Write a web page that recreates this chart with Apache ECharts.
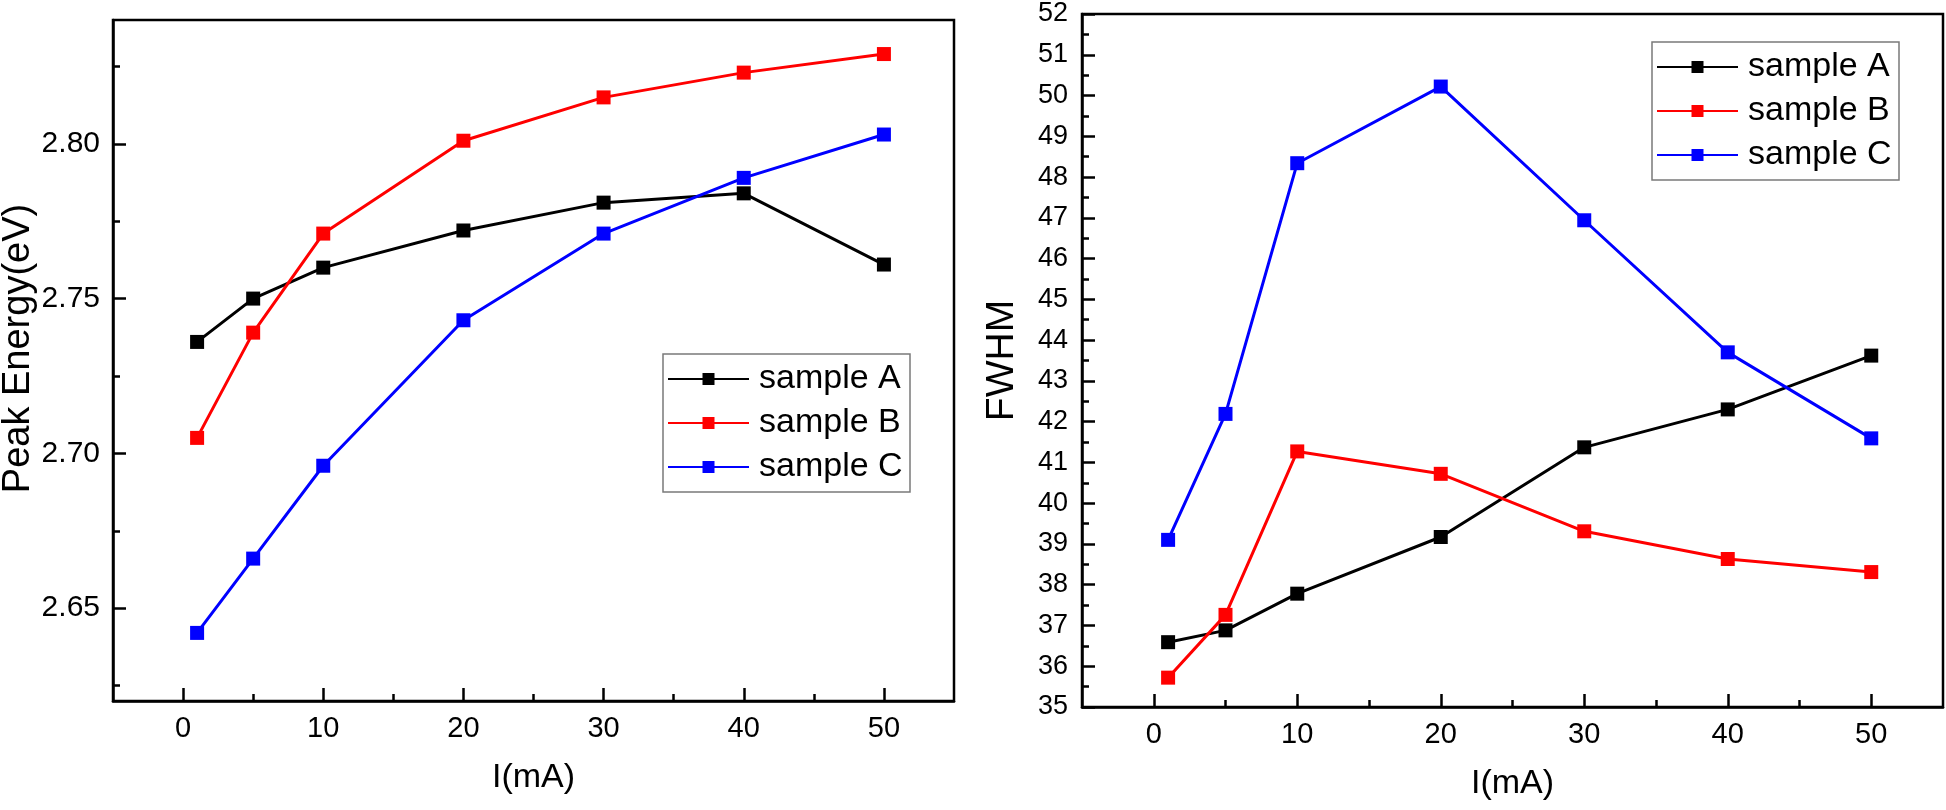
<!DOCTYPE html>
<html>
<head>
<meta charset="utf-8">
<script src="https://cdn.jsdelivr.net/npm/echarts@6/dist/echarts.min.js"></script>
<style>
html,body{margin:0;padding:0;background:#fff;}
#chart{width:1946px;height:810px;}
</style>
</head>
<body>
<div id="chart"></div>
<script>
// ---- data ----
var currents = [1, 5, 10, 20, 30, 40, 50];
var seriesNames = ['sample A', 'sample B', 'sample C'];
var peakA = [2.736, 2.750, 2.760, 2.772, 2.781, 2.784, 2.761];
var peakB = [2.705, 2.739, 2.771, 2.801, 2.815, 2.823, 2.829];
var peakC = [2.642, 2.666, 2.696, 2.743, 2.771, 2.789, 2.803];
var fwhmA = [36.59, 36.88, 37.78, 39.17, 41.37, 42.30, 43.62];
var fwhmB = [35.72, 37.26, 41.27, 40.72, 39.31, 38.63, 38.31];
var fwhmC = [39.10, 42.19, 48.34, 50.22, 46.94, 43.70, 41.59];
// ---- tick labels ----
var xMajorTicks = [0, 10, 20, 30, 40, 50];
var xMinorTicks = [5, 15, 25, 35, 45];
var peakMajorTicks = [2.65, 2.70, 2.75, 2.80];
var peakMinorTicks = [2.625, 2.675, 2.725, 2.775, 2.825];
var fwhmMajorTicks = [35,36,37,38,39,40,41,42,43,44,45,46,47,48,49,50,51,52];
var fwhmMinorTicks = [35.5,36.5,37.5,38.5,39.5,40.5,41.5,42.5,43.5,44.5,45.5,46.5,47.5,48.5,49.5,50.5,51.5];

var FONT = "'Liberation Sans', Arial, sans-serif";
var colors = ['#000000', '#ff0000', '#0000ff'];

function zip(xs, ys) { return xs.map(function (x, i) { return [x, ys[i]]; }); }

function majorAxis(grid, min, max, ticks, extra) {
  var a = {
    type: 'value', gridIndex: grid, min: min, max: max,
    axisLine: { show: true, onZero: false, lineStyle: { color: '#000', width: 2.5 } },
    axisTick: { show: true, inside: true, length: 13, customValues: ticks, lineStyle: { color: '#000', width: 2.5 } },
    splitLine: { show: false }
  };
  for (var k in extra) a[k] = extra[k];
  return a;
}
function minorAxis(grid, min, max, ticks, pos) {
  return {
    type: 'value', gridIndex: grid, min: min, max: max, position: pos,
    axisLine: { show: false, onZero: false },
    axisTick: { show: true, inside: true, length: 7, customValues: ticks, lineStyle: { color: '#000', width: 2.5 } },
    axisLabel: { show: false },
    splitLine: { show: false }
  };
}
function xMajor(grid) {
  return majorAxis(grid, -5, 55, xMajorTicks, {
    position: 'bottom',
    axisLabel: { show: true, customValues: xMajorTicks, color: '#000', fontFamily: FONT, fontSize: 29, margin: 13 },
    name: 'I(mA)', nameLocation: 'middle', nameGap: 60,
    nameTextStyle: { fontSize: 34, color: '#000', fontFamily: FONT }
  });
}

var xAxes = [
  xMajor(0),
  minorAxis(0, -5, 55, xMinorTicks, 'bottom'),
  xMajor(1),
  minorAxis(1, -5, 55, xMinorTicks, 'bottom')
];
var yAxes = [
  majorAxis(0, 2.62, 2.84, peakMajorTicks, {
    position: 'left',
    axisLabel: { show: true, customValues: peakMajorTicks, color: '#000', fontFamily: FONT, fontSize: 30, margin: 13,
      formatter: function (v) { return Number(v).toFixed(2); } },
    name: 'Peak Energy(eV)', nameLocation: 'middle', nameGap: 74,
    nameTextStyle: { fontSize: 38, color: '#000', fontFamily: FONT, padding: [0, 0, 0, 24] }
  }),
  minorAxis(0, 2.62, 2.84, peakMinorTicks, 'left'),
  majorAxis(1, 35, 52, fwhmMajorTicks, {
    position: 'left',
    axisLabel: { show: true, customValues: fwhmMajorTicks, color: '#000', fontFamily: FONT, fontSize: 27, margin: 14 },
    name: 'FWHM', nameLocation: 'middle', nameGap: 60,
    nameTextStyle: { fontSize: 39, color: '#000', fontFamily: FONT }
  }),
  minorAxis(1, 35, 52, fwhmMinorTicks, 'left')
];

function lineSeries(name, data, idx, xi, yi) {
  return {
    type: 'line', name: name, data: zip(currents, data),
    xAxisIndex: xi, yAxisIndex: yi,
    symbol: 'rect', symbolSize: 14, showSymbol: true,
    lineStyle: { color: colors[idx], width: 3 },
    itemStyle: { color: colors[idx] },
    animation: false, z: 3 + idx
  };
}

var legendCommon = {
  orient: 'vertical', itemWidth: 81, itemHeight: 15, itemGap: 10,
  padding: [8, 6, 8, 4],
  borderColor: '#7a7a7a', borderWidth: 1.5, backgroundColor: '#fff',
  textStyle: { fontSize: 34, color: '#000', fontFamily: FONT, lineHeight: 34, width: 145, padding: [0, 0, 0, 5] },
  data: seriesNames, selectedMode: false
};

var option = {
  animation: false,
  backgroundColor: '#ffffff',
  grid: [
    { left: 113, right: 992, top: 20, bottom: 109, show: true, borderColor: '#000', borderWidth: 2.5, backgroundColor: 'transparent', containLabel: false, outerBoundsMode: 'none' },
    { left: 1082, right: 3, top: 14, bottom: 103, show: true, borderColor: '#000', borderWidth: 2.5, backgroundColor: 'transparent', containLabel: false, outerBoundsMode: 'none' }
  ],
  xAxis: xAxes,
  yAxis: yAxes,
  legend: [
    Object.assign({}, legendCommon, { left: 663, top: 354 }),
    Object.assign({}, legendCommon, { left: 1652, top: 42 })
  ],
  series: [
    lineSeries(seriesNames[0], peakA, 0, 0, 0),
    lineSeries(seriesNames[1], peakB, 1, 0, 0),
    lineSeries(seriesNames[2], peakC, 2, 0, 0),
    lineSeries(seriesNames[0], fwhmA, 0, 2, 2),
    lineSeries(seriesNames[1], fwhmB, 1, 2, 2),
    lineSeries(seriesNames[2], fwhmC, 2, 2, 2)
  ]
};

var chart = echarts.init(document.getElementById('chart'), null, { renderer: 'canvas' });
chart.setOption(option);
</script>
</body>
</html>
